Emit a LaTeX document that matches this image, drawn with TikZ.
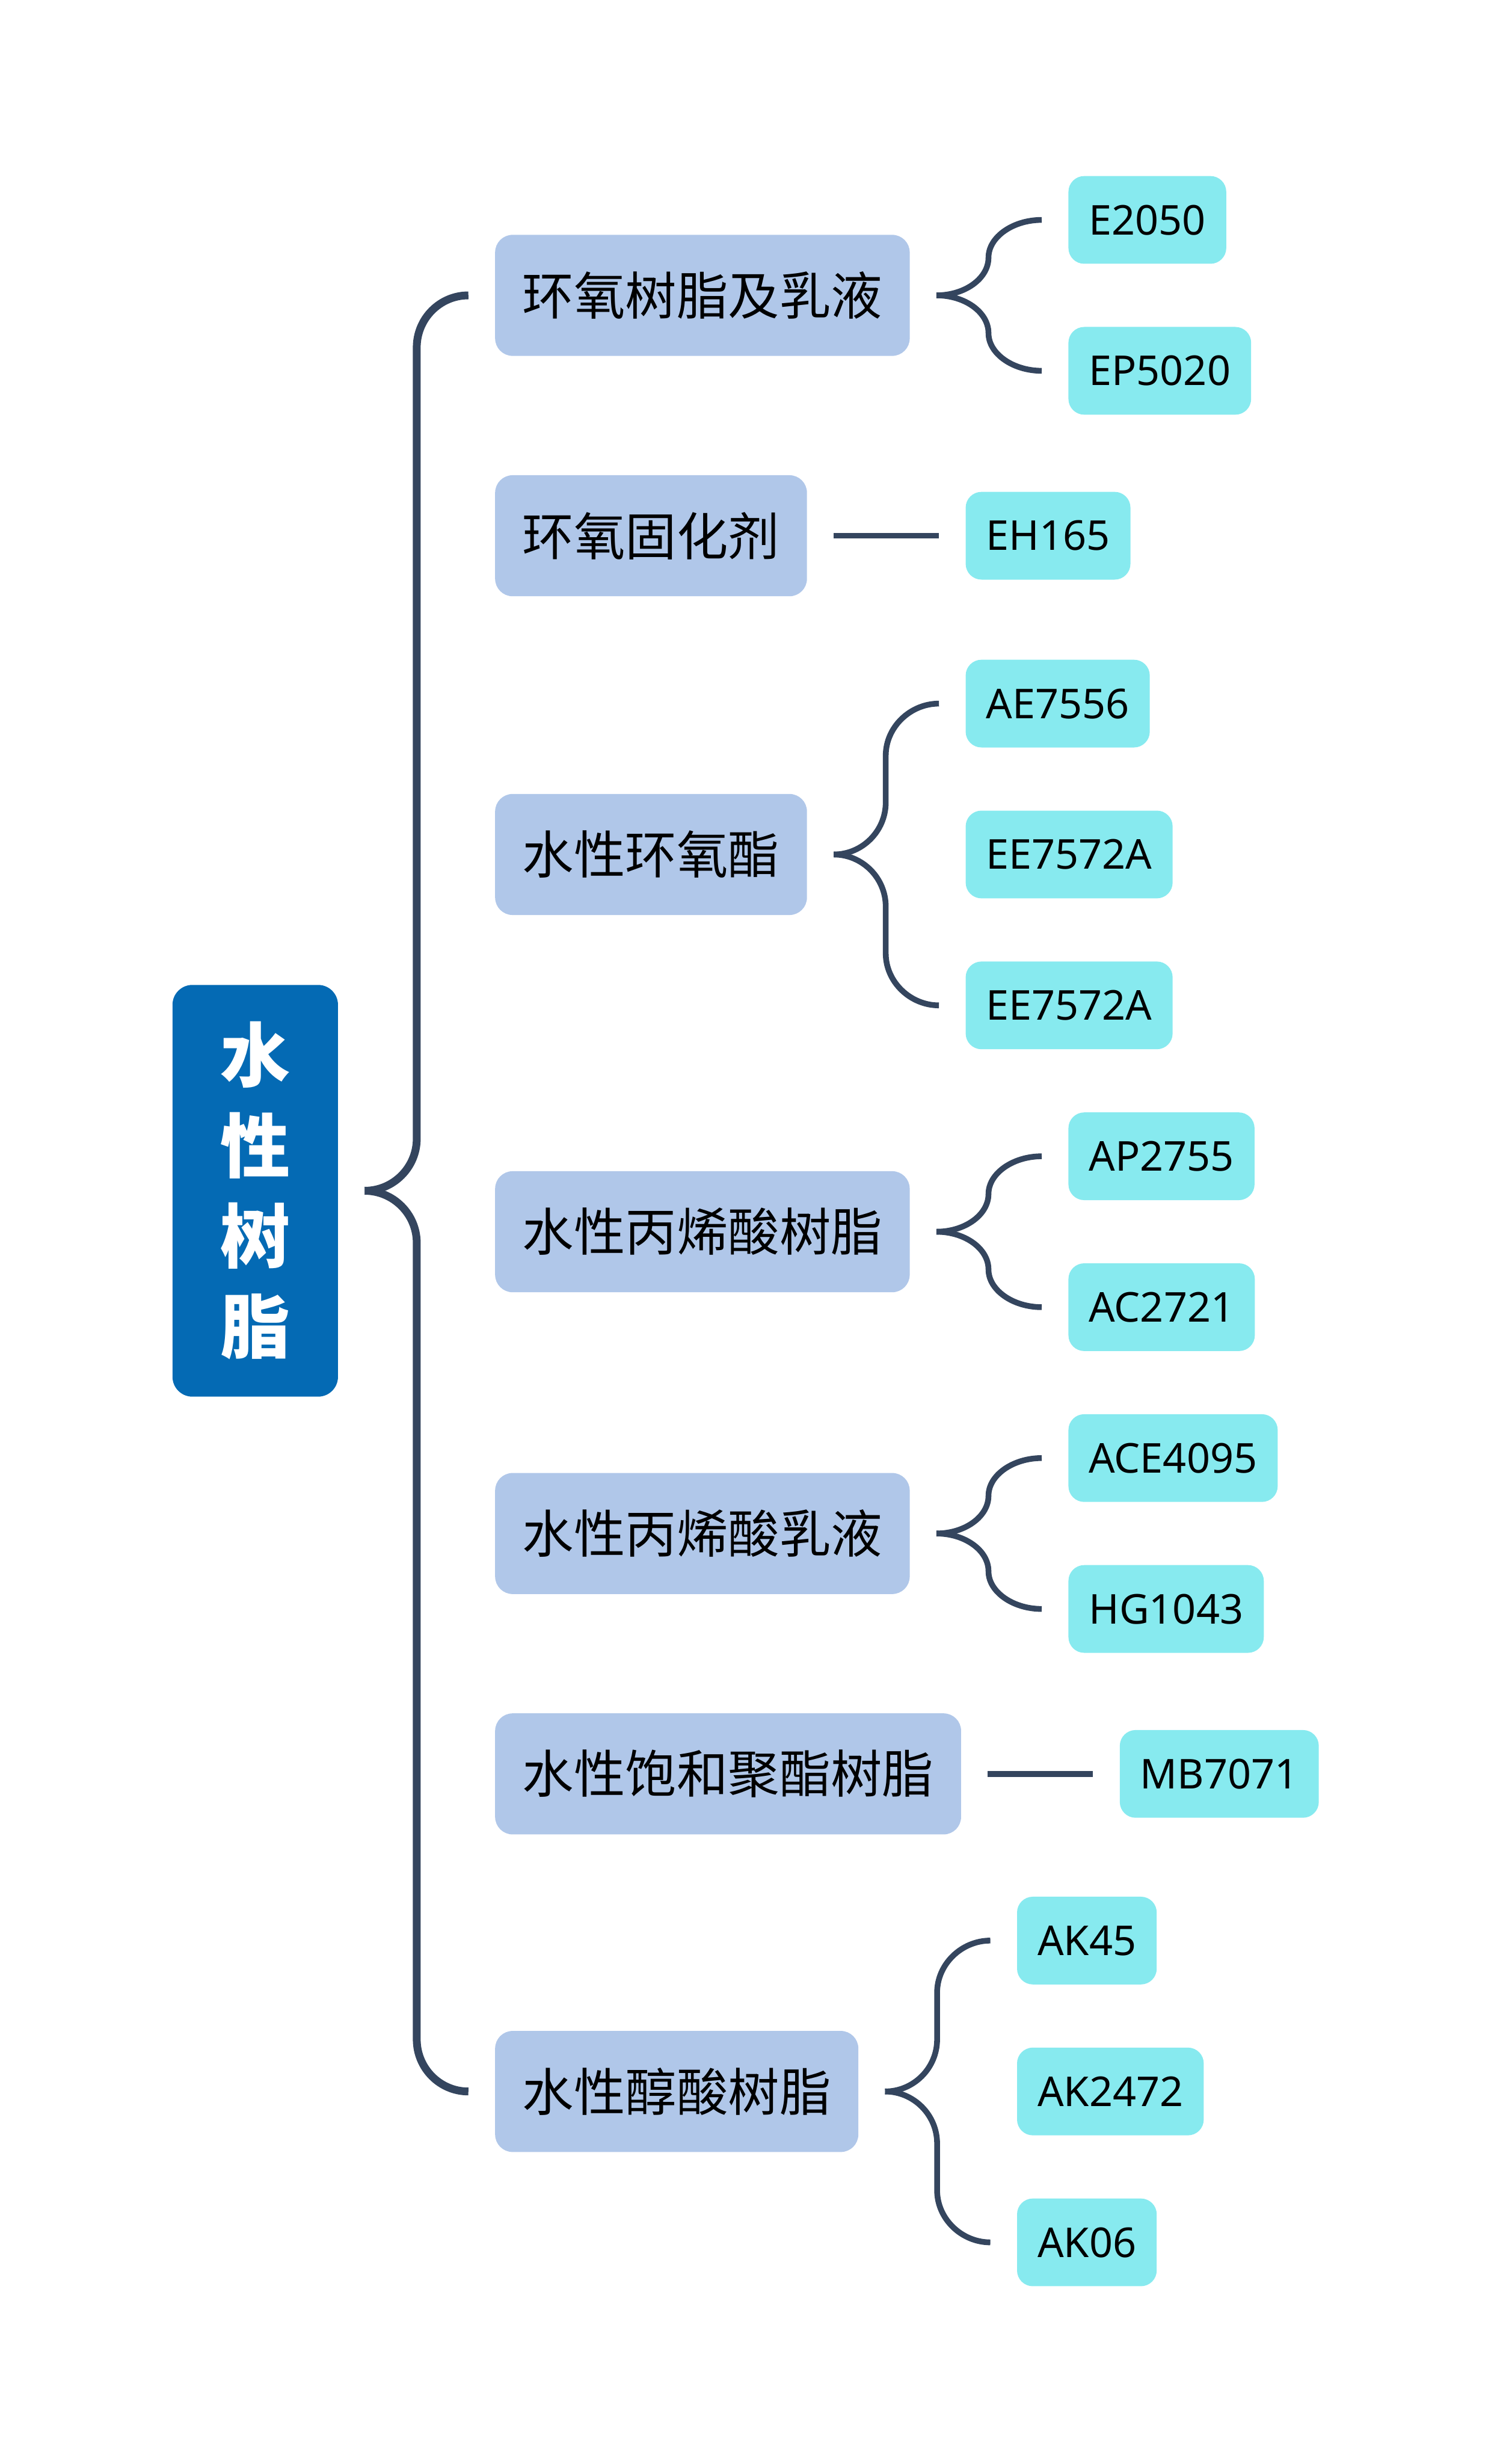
\documentclass[tikz,border=0pt]{standalone}
\usepackage{fontspec}
\setmainfont{Noto Sans}
\newfontfamily\cjk{Noto Sans CJK SC}
\usetikzlibrary{positioning,calc}
\definecolor{rootblue}{RGB}{4,106,180}
\definecolor{topicblue}{RGB}{176,199,233}
\definecolor{leafcyan}{RGB}{135,234,239}
\definecolor{link}{RGB}{52,69,94}

% brace arm: parent, child, signed half-bend
\newcommand{\twig}[4][conn]{%
  \draw[#1] ($(#2.east)+(0.45,0)$) coordinate (tw)
    .. controls +(0.49,0) and +(0,{-0.55*(#4)}) .. ($(tw)+(0.89,#4)$) coordinate (tv)
    -- ($(tv |- #3.west)+(0,{-1*(#4)})$)
    .. controls +(0,{0.55*(#4)}) and +(-0.49,0) .. ($(#3.west)+(-0.45,0)$);}

\begin{document}
\begin{tikzpicture}[
  root/.style={fill=rootblue, rounded corners=0.34cm, minimum width=2.83cm, minimum height=7.04cm,
    align=center, text=white, font=\cjk\bfseries\fontsize{34}{44}\selectfont},
  topic/.style={fill=topicblue, rounded corners=0.3cm, minimum height=2.07cm, inner xsep=0.47cm,
    anchor=west, font=\cjk\fontsize{25}{30}\selectfont},
  leaf/.style={fill=leafcyan, rounded corners=0.27cm, minimum height=1.5cm, inner xsep=0.35cm,
    font=\fontsize{20}{24}\selectfont},
  conn/.style={draw=link, line width=2.8pt},
  trunk/.style={conn, line width=3.8pt},
]
\useasboundingbox (0,0) rectangle (25.6,-42.13);

\node[root] (resin) at (4.365,-20.36) {水\\性\\树\\脂};

\node[topic] (epoxy) at (8.46,-5.05) {环氧树脂及乳液};
\node[topic] (curing) at (8.46,-9.16) {环氧固化剂};
\node[topic] (ester) at (8.46,-14.61) {水性环氧酯};
\node[topic] (acrylres) at (8.46,-21.06) {水性丙烯酸树脂};
\node[topic] (acrylem) at (8.46,-26.22) {水性丙烯酸乳液};
\node[topic] (polyester) at (8.46,-30.33) {水性饱和聚酯树脂};
\node[topic] (alkyd) at (8.46,-35.76) {水性醇酸树脂};

\node[leaf, right=2.7cm of epoxy, yshift=1.29cm] (e2050) {E2050};
\node[leaf, right=2.7cm of epoxy, yshift=-1.29cm] (ep5020) {EP5020};
\node[leaf, right=2.7cm of curing] (eh165) {EH165};
\node[leaf, right=2.7cm of ester, yshift=2.58cm] (ae7556) {AE7556};
\node[leaf, right=2.7cm of ester] (ee7572a) {EE7572A};
\node[leaf, right=2.7cm of ester, yshift=-2.58cm] (ee7572b) {EE7572A};
\node[leaf, right=2.7cm of acrylres, yshift=1.29cm] (ap2755) {AP2755};
\node[leaf, right=2.7cm of acrylres, yshift=-1.29cm] (ac2721) {AC2721};
\node[leaf, right=2.7cm of acrylem, yshift=1.29cm] (ace4095) {ACE4095};
\node[leaf, right=2.7cm of acrylem, yshift=-1.29cm] (hg1043) {HG1043};
\node[leaf, right=2.7cm of polyester] (mb7071) {MB7071};
\node[leaf, right=2.7cm of alkyd, yshift=2.58cm] (ak45) {AK45};
\node[leaf, right=2.7cm of alkyd] (ak2472) {AK2472};
\node[leaf, right=2.7cm of alkyd, yshift=-2.58cm] (ak06) {AK06};

% main brace
\twig[trunk]{resin}{epoxy}{0.89}
\twig[trunk]{resin}{alkyd}{-0.89}

% sub braces and single links
\twig{epoxy}{e2050}{0.645}
\twig{epoxy}{ep5020}{-0.645}
\draw[conn] ($(curing.east)+(0.45,0)$) -- ($(eh165.west)+(-0.45,0)$);
\twig{ester}{ae7556}{0.89}
\twig{ester}{ee7572b}{-0.89}
\twig{acrylres}{ap2755}{0.645}
\twig{acrylres}{ac2721}{-0.645}
\twig{acrylem}{ace4095}{0.645}
\twig{acrylem}{hg1043}{-0.645}
\draw[conn] ($(polyester.east)+(0.45,0)$) -- ($(mb7071.west)+(-0.45,0)$);
\twig{alkyd}{ak45}{0.89}
\twig{alkyd}{ak06}{-0.89}
\end{tikzpicture}
\end{document}
